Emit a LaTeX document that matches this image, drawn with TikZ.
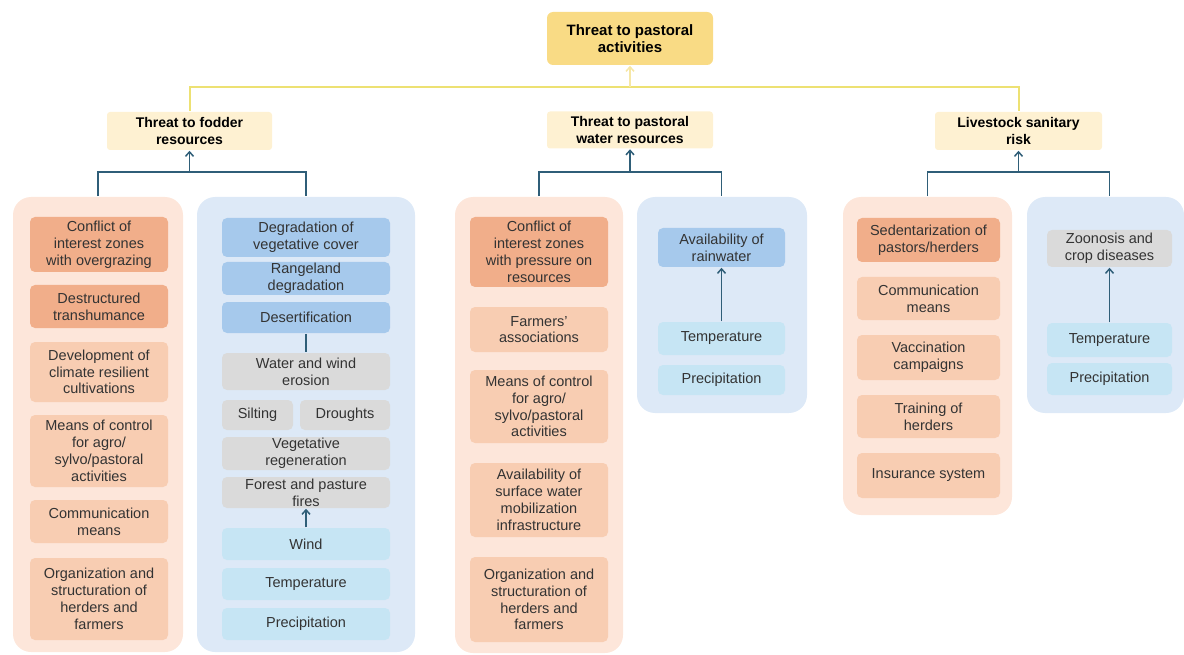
\documentclass[tikz,border=0pt]{standalone}
\usepackage{fontspec}
\setmainfont{Liberation Sans}
\usetikzlibrary{arrows.meta}

\definecolor{topyellow}{HTML}{F9DB85}
\definecolor{headyellow}{HTML}{FEF1D2}
\definecolor{lineyellow}{HTML}{EDE173}
\definecolor{paleyellow}{HTML}{F6E7A6}
\definecolor{linkblue}{HTML}{2F5E78}
\definecolor{peachbg}{HTML}{FDE6DA}
\definecolor{bluebg}{HTML}{DDE9F7}
\definecolor{darkorange}{HTML}{F1AE8A}
\definecolor{lightorange}{HTML}{F8CDB2}
\definecolor{midblue}{HTML}{A6C9EC}
\definecolor{greybox}{HTML}{DADADA}
\definecolor{cyanbox}{HTML}{C6E5F4}
\definecolor{textgray}{HTML}{333333}

\begin{document}
\begin{tikzpicture}
  [
  x=1pt, y=-1pt, line width=1.5pt,
  font=\fontsize{14.5}{16.8}\selectfont, text=textgray,
  group/.style={rounded corners=18pt, inner sep=0pt},
  item/.style={rounded corners=5pt, inner sep=0pt, align=center},
  head/.style={inner sep=0pt, align=center, rounded corners=3pt, fill=headyellow,
    font=\fontsize{14}{16.5}\selectfont\bfseries, text=black},
  link/.style={draw=linkblue},
  up/.style={draw=linkblue, -{Straight Barb[length=4.5pt,width=8pt]}},
  colFo/.style={item, minimum width=138},
  colFb/.style={item, minimum width=168},
  colWo/.style={item, minimum width=138},
  colWb/.style={item, minimum width=127},
  colLo/.style={item, minimum width=143},
  colLb/.style={item, minimum width=125}
  ]
\useasboundingbox (0,0) rectangle (1184,655);

% headings
\node[head, fill=topyellow, rounded corners=6pt, minimum width=166, minimum height=53,
  font=\fontsize{15}{17.5}\selectfont\bfseries]
  (top) at (630,38.5) {Threat to pastoral\\activities};
\node[head, minimum width=165, minimum height=38] (hF) at (189.5,131) {Threat to fodder\\resources};
\node[head, minimum width=166, minimum height=37] (hW) at (630,130) {Threat to pastoral\\water resources};
\node[head, minimum width=167, minimum height=38] (hL) at (1018.5,131) {Livestock sanitary\\risk};

% groups
\node[group, fill=peachbg, minimum width=170, minimum height=455] (gF1) at (98,424.5) {};
\node[group, fill=bluebg, minimum width=218, minimum height=455] (gF2) at (306,424.5) {};
\node[group, fill=peachbg, minimum width=168, minimum height=456] (gW1) at (539,425) {};
\node[group, fill=bluebg, minimum width=170, minimum height=216] (gW2) at (722,305) {};
\node[group, fill=peachbg, minimum width=169, minimum height=318] (gL1) at (927.5,356) {};
\node[group, fill=bluebg, minimum width=157, minimum height=216] (gL2) at (1105.5,305) {};

% fodder
\node[colFo, fill=darkorange, minimum height=55] (cF1) at (99,244.5) {Conflict of\\interest zones\\with overgrazing};
\node[colFo, fill=darkorange, minimum height=43] (cF2) at (99,306.5) {Destructured\\transhumance};
\node[colFo, fill=lightorange, minimum height=60] (cF3) at (99,372) {Development of\\climate resilient\\cultivations};
\node[colFo, fill=lightorange, minimum height=72] (cF4) at (99,451) {Means of control\\for agro/\\sylvo/pastoral\\activities};
\node[colFo, fill=lightorange, minimum height=43] (cF5) at (99,521.5) {Communication\\means};
\node[colFo, fill=lightorange, minimum height=82] (cF6) at (99,599) {Organization and\\structuration of\\herders and\\farmers};

\node[colFb, fill=midblue, minimum height=39] (bF1) at (306,237.5) {Degradation of\\vegetative cover};
\node[colFb, fill=midblue, minimum height=33] (bF2) at (306,278.5) {Rangeland\\degradation};
\node[colFb, fill=midblue, minimum height=31] (bF3) at (306,317.5) {Desertification};
\node[colFb, fill=greybox, minimum height=37] (bF4) at (306,371.5) {Water and wind\\erosion};
\node[item, fill=greybox, minimum width=71, minimum height=30] (bF5) at (257.5,415) {Silting};
\node[item, fill=greybox, minimum width=90, minimum height=30] (bF6) at (345,415) {Droughts};
\node[colFb, fill=greybox, minimum height=33] (bF7) at (306,453.5) {Vegetative\\regeneration};
\node[colFb, fill=greybox, minimum height=31] (bF8) at (306,492.5) {Forest and pasture\\fires};
\node[colFb, fill=cyanbox, minimum height=32] (bF9) at (306,544) {Wind};
\node[colFb, fill=cyanbox, minimum height=32] (bF10) at (306,584) {Temperature};
\node[colFb, fill=cyanbox, minimum height=32] (bF11) at (306,624) {Precipitation};

% water
\node[colWo, fill=darkorange, minimum height=70] (cW1) at (539,252) {Conflict of\\interest zones\\with pressure on\\resources};
\node[colWo, fill=lightorange, minimum height=45] (cW2) at (539,329.5) {Farmers'\\associations};
\node[colWo, fill=lightorange, minimum height=73] (cW3) at (539,406.5) {Means of control\\for agro/\\sylvo/pastoral\\activities};
\node[colWo, fill=lightorange, minimum height=74] (cW4) at (539,500) {Availability of\\surface water\\mobilization\\infrastructure};
\node[colWo, fill=lightorange, minimum height=85] (cW5) at (539,599.5) {Organization and\\structuration of\\herders and\\farmers};

\node[colWb, fill=midblue, minimum height=39] (bW1) at (721.5,247.5) {Availability of\\rainwater};
\node[colWb, fill=cyanbox, minimum height=33] (bW2) at (721.5,338.5) {Temperature};
\node[colWb, fill=cyanbox, minimum height=30] (bW3) at (721.5,380) {Precipitation};

% livestock
\node[colLo, fill=darkorange, minimum height=44] (cL1) at (928.5,240) {Sedentarization of\\pastors/herders};
\node[colLo, fill=lightorange, minimum height=43] (cL2) at (928.5,298.5) {Communication\\means};
\node[colLo, fill=lightorange, minimum height=45] (cL3) at (928.5,357.5) {Vaccination\\campaigns};
\node[colLo, fill=lightorange, minimum height=43] (cL4) at (928.5,416.5) {Training of\\herders};
\node[colLo, fill=lightorange, minimum height=45] (cL5) at (928.5,475.5) {Insurance system};

\node[colLb, fill=greybox, minimum height=37] (bL1) at (1109.5,248.5) {Zoonosis and\\crop diseases};
\node[colLb, fill=cyanbox, minimum height=34] (bL2) at (1109.5,340) {Temperature};
\node[colLb, fill=cyanbox, minimum height=32] (bL3) at (1109.5,379) {Precipitation};

% connectors
\coordinate (yb) at (630,87);
\draw[lineyellow, line width=2pt] (hF.north) |- (yb) -| (hL.north);
\draw[paleyellow, line width=1.5pt, -{Straight Barb[length=4.5pt,width=8pt]}] (yb) -- (top.south);

\coordinate (fb) at (189.5,172);
\coordinate (wb) at (630,172);
\coordinate (lb) at (1018.5,172);
\draw[link] (gF1.north) |- (fb) -| (gF2.north);
\draw[up] (fb) -- (hF.south);
\draw[link] (gW1.north) |- (wb) -| (gW2.north -| bW1);
\draw[up] (wb) -- (hW.south);
\draw[link] (gL1.north) |- (lb) -| (gL2.north -| bL1);
\draw[up] (lb) -- (hL.south);

\draw[link] (bF3) -- (bF4);
\draw[up] (bF9) -- (bF8);
\draw[up] (bW2) -- (bW1);
\draw[up] (bL2) -- (bL1);

\end{tikzpicture}
\end{document}
